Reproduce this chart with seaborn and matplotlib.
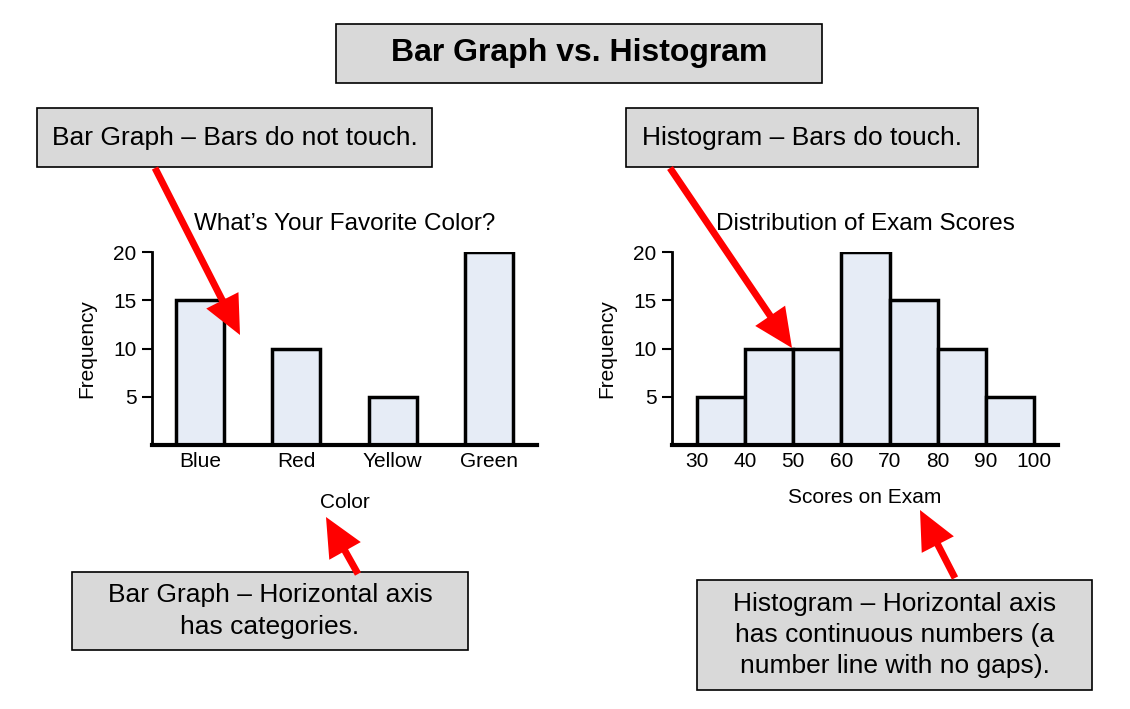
import matplotlib
matplotlib.use("Agg")
import matplotlib.pyplot as plt
from matplotlib.patches import Rectangle, FancyArrowPatch
import seaborn as sns
import numpy as np

# ---- data ----
colors = ["Blue", "Red", "Yellow", "Green"]
color_freq = [15, 10, 5, 20]
score_edges = [30, 40, 50, 60, 70, 80, 90, 100]
score_freq = [5, 10, 10, 20, 15, 10, 5]
y_ticks = [5, 10, 15, 20]

sns.set_theme(style="ticks")
plt.rcParams["font.family"] = ["Liberation Sans", "DejaVu Sans"]

W, H = 1130, 709
fig = plt.figure(figsize=(W / 100, H / 100), dpi=100)
fig.patch.set_facecolor("white")

def fx(x):
    return x / W

def fy(y):
    return 1 - y / H

FILL = "#E6ECF6"
BOX = "#D9D9D9"

def style_axes(ax):
    sns.despine(ax=ax)
    ax.spines["left"].set_linewidth(2)
    ax.spines["bottom"].set_linewidth(3)
    ax.spines["left"].set_color("black")
    ax.spines["bottom"].set_color("black")
    ax.set_facecolor("white")
    ax.set_ylim(0, 20)
    ax.set_yticks(y_ticks)
    ax.tick_params(axis="y", direction="out", length=7, width=1.5, labelsize=15, colors="black", pad=4)
    ax.tick_params(axis="x", length=0, labelsize=15, colors="black", pad=5)
    ax.set_ylabel("Frequency", fontsize=15, color="black", labelpad=12)

# ---- left: bar graph ----
ax1 = fig.add_axes([fx(152), fy(445), fx(537) - fx(152), fy(252) - fy(445)])
sns.barplot(x=colors, y=color_freq, color=FILL, saturation=1, width=0.5,
            edgecolor="black", linewidth=2.5, ax=ax1)
ax1.set_xlim(-0.5, 3.5)
style_axes(ax1)
ax1.set_title("What\u2019s Your Favorite Color?", fontsize=17.5, color="black", pad=16)
ax1.set_xlabel("Color", fontsize=15, color="black", labelpad=16)

# ---- right: histogram ----
mids = [(a + b) / 2 for a, b in zip(score_edges[:-1], score_edges[1:])]
ax2 = fig.add_axes([fx(672), fy(445), fx(1058) - fx(672), fy(252) - fy(445)])
sns.histplot(x=mids, weights=score_freq, bins=score_edges, color=FILL, alpha=1,
             edgecolor="black", linewidth=2.5, ax=ax2)
ax2.set_xlim(24.8, 105)
style_axes(ax2)
ax2.set_xticks(score_edges)
ax2.set_title("Distribution of Exam Scores", fontsize=17.5, color="black", pad=16)
ax2.set_xlabel("Scores on Exam", fontsize=15, color="black", labelpad=12)

# ---- boxes ----
def box(x0, y0, x1, y1, text, size, weight="normal"):
    r = Rectangle((fx(x0), fy(y1)), fx(x1) - fx(x0), fy(y0) - fy(y1),
                  transform=fig.transFigure, facecolor=BOX, edgecolor="black",
                  linewidth=1.2, zorder=5)
    fig.add_artist(r)
    fig.text(fx((x0 + x1) / 2), fy((y0 + y1) / 2), text, ha="center", va="center",
             fontsize=size, fontweight=weight, color="black", zorder=6,
             linespacing=1.38)

box(336, 24, 822, 83, "Bar Graph vs. Histogram", 23, "bold")
box(37, 108, 432, 167, "Bar Graph \u2013 Bars do not touch.", 19)
box(626, 108, 978, 167, "Histogram \u2013 Bars do touch.", 19)
box(72, 572, 468, 650, "Bar Graph \u2013 Horizontal axis\nhas categories.", 19)
box(697, 580, 1092, 690, "Histogram \u2013 Horizontal axis\nhas continuous numbers (a\nnumber line with no gaps).", 19)

# ---- arrows ----
def arrow(x0, y0, x1, y1):
    a = FancyArrowPatch((fx(x0), fy(y0)), (fx(x1), fy(y1)), transform=fig.transFigure,
                        arrowstyle="simple,head_width=2.6,head_length=2.8,tail_width=0.5",
                        mutation_scale=10, color="#FF0000", linewidth=0,
                        shrinkA=0, shrinkB=0, zorder=7)
    fig.add_artist(a)

arrow(155, 168, 240, 335)
arrow(670, 168, 792, 348)
arrow(358, 574, 326, 517)
arrow(955, 578, 920, 510)

fig.savefig("out.png", dpi=100, facecolor="white")
